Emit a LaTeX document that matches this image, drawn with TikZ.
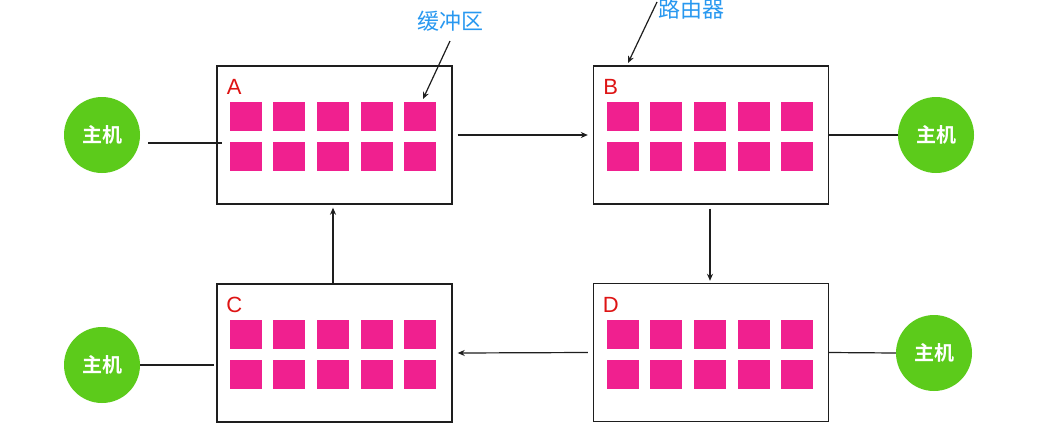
\documentclass[tikz,border=0pt]{standalone}
\usepackage{fontspec}
\setmainfont{Liberation Sans}
\newfontfamily\cjk{Noto Sans CJK SC}[BoldFont={Noto Sans CJK SC Bold}]
\usetikzlibrary{arrows.meta}
\definecolor{hostgreen}{RGB}{92,203,27}
\definecolor{bufpink}{RGB}{240,32,143}
\definecolor{noteblue}{RGB}{40,152,240}
\definecolor{labelred}{RGB}{222,20,20}
\definecolor{linegray}{RGB}{30,30,30}
\tikzset{
  router/.style={draw=linegray, line width=1.4pt, minimum width=235pt, minimum height=138pt, inner sep=0pt},
  host/.style={circle, fill=hostgreen, minimum size=76pt, inner sep=0pt, text=white, font=\cjk\bfseries\fontsize{20}{20}\selectfont},
  conn/.style={draw=linegray, line width=1.2pt},
  flow/.style={conn, -{Stealth[length=7pt,width=6pt]}},
  note/.style={text=noteblue, font=\cjk\fontsize{22}{22}\selectfont, inner sep=0pt},
  rlabel/.style={text=labelred, font=\fontsize{22}{22}\selectfont, inner sep=0pt},
  buf/.style={fill=bufpink}
}
\begin{document}
\begin{tikzpicture}[x=1pt,y=-1pt]
\useasboundingbox (0,0) rectangle (1059,437);
\fill[white] (0,0) rectangle (1059,437);

% routers
\node[router] (A) at (334.5,135) {};
\node[router] (B) at (711,135) {};
\node[router] (C) at (334.5,353) {};
\node[router] (D) at (711,352.5) {};

\foreach \r/\l in {A/A,B/B,C/C,D/D}{
  \begin{scope}[shift={(\r.north west)}]
    \node[rlabel] at (18,22) {\l};
    \foreach \dx in {14,57,101,145,188}{
      \foreach \dy in {37,77}{
        \fill[buf] (\dx,\dy) rectangle ++(32,29);
      }
    }
  \end{scope}
}

% hosts
\node[host] (h1) at (102,135) {主机};
\node[host] (h2) at (936,135) {主机};
\node[host] (h3) at (102,365) {主机};
\node[host] (h4) at (934,353) {主机};

% host links
\draw[conn] ([shift={(8pt,-8pt)}]h1.east) -- ([shift={(6pt,-8pt)}]A.west);
\draw[conn] (B.east) -- (h2.west);
\draw[conn] (h3.east) -- ([xshift=-2pt]C.west |- h3.east);
\draw[conn] (D.east) -- (h4.west);

% ring
\draw[flow] ([xshift=5pt]A.east) -- ([xshift=-5pt]B.west);
\draw[flow] ([xshift=-1pt,yshift=-4pt]B.south) -- ([xshift=-1pt,yshift=2pt]D.north);
\draw[flow] ([xshift=-5pt]D.west) -- ([xshift=5pt]C.east);
\draw[flow] ([xshift=-1.5pt]C.north) -- ([xshift=-1.5pt,yshift=-3pt]A.south);

% annotations
\node[note] (nbuf) at (450,21) {缓冲区};
\node[note] (nrt) at (691,9) {路由器};
\coordinate (bufs) at (450,41);
\coordinate (buft) at (423,99);
\coordinate (rts) at (657,2);
\coordinate (rtt) at (628,63);
\draw[flow] (bufs) -- (buft);
\draw[flow] (rts) -- (rtt);
\end{tikzpicture}
\end{document}
